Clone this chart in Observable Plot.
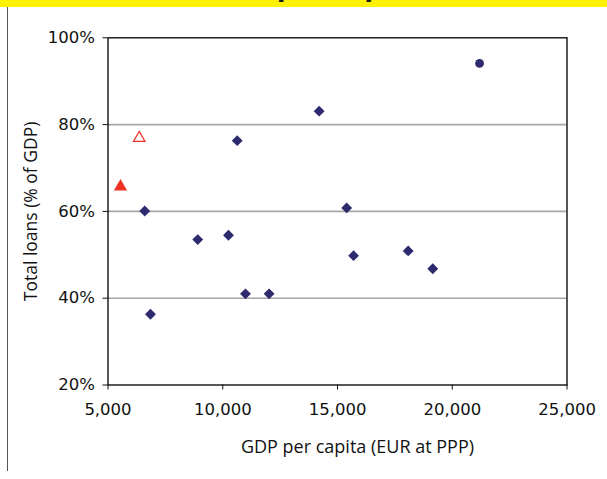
<!DOCTYPE html>
<html>
<head>
<meta charset="utf-8">
<script src="https://cdn.jsdelivr.net/npm/d3@7"></script>
<script src="https://cdn.jsdelivr.net/npm/@observablehq/plot@0.6"></script>
<style>
  html, body { margin: 0; padding: 0; background: #fff; }
  #wrap { position: relative; width: 607px; height: 479px; overflow: hidden; }
  #banner { position: absolute; left: 0; top: 0; width: 607px; height: 7px; background: #fff200; overflow: hidden; }
  #banner span { position: absolute; left: 58px; top: -26.5px; line-height: 25px; font: italic bold 25px "DejaVu Sans", sans-serif; color: #1a1a1a; white-space: nowrap; }
  #vline { position: absolute; left: 7px; top: 7px; width: 1px; height: 464px; background: #555; }
  #chart { position: absolute; left: 0; top: 0; }
</style>
</head>
<body>
<div id="wrap">
  <div id="chart"></div>
  <div id="banner"><span>Loans and GDP per capita</span></div>
  <div id="vline"></div>
</div>
<script>
// Diamonds (countries)
const gdpPerCapita = [14200, 10630, 6600, 15400, 8910, 10250, 15700, 18080, 19150, 10990, 12020, 6850];
const totalLoans   = [83.1, 76.3, 60.1, 60.8, 53.5, 54.5, 49.8, 50.9, 46.8, 41.0, 41.0, 36.3];
// Circle
const circleGdp = [21190];
const circleLoans = [94.1];
// Filled red triangle
const filledTriGdp = [5545];
const filledTriLoans = [65.7];
// Open red triangle
const openTriGdp = [6360];
const openTriLoans = [76.9];
// Ticks and labels
const xTicks = [5000, 10000, 15000, 20000, 25000];
const yTicks = [20, 40, 60, 80, 100];
const gridLines = [40, 60, 80];
const xLabel = ["GDP per capita (EUR at PPP)"];
const yLabel = ["Total loans (% of GDP)"];

const diamonds = gdpPerCapita.map((g, i) => ({gdp: g, loans: totalLoans[i]}));
const circles = circleGdp.map((g, i) => ({gdp: g, loans: circleLoans[i]}));
const filledTri = filledTriGdp.map((g, i) => ({gdp: g, loans: filledTriLoans[i]}));
const openTri = openTriGdp.map((g, i) => ({gdp: g, loans: openTriLoans[i]}));

const navy = "#2e2a6e";
const red = "#ee3124";
const tickFont = "'DejaVu Sans', sans-serif";
const labelFont = "'Open Sans', sans-serif";

const chart = Plot.plot({
  width: 607,
  height: 479,
  marginLeft: 107.5,
  marginRight: 40.5,
  marginTop: 37.3,
  marginBottom: 94.5,
  style: {fontFamily: tickFont, fontSize: "16.5px", color: "#111", background: "transparent"},
  x: {domain: [5000, 25000]},
  y: {domain: [20, 100]},
  marks: [
    Plot.ruleY(gridLines, {stroke: "#a6a6a6", strokeWidth: 1.6}),
    Plot.frame({stroke: "#111", strokeWidth: 1.4}),
    Plot.axisX({ticks: xTicks, tickFormat: d3.format(","), tickSize: 5, tickPadding: 13, fontSize: 16.5,
      fontFamily: tickFont, label: null}),
    Plot.axisY({ticks: yTicks, tickFormat: d => d + "%", tickSize: 5, tickPadding: 8, fontSize: 16.5,
      fontFamily: tickFont, label: null}),
    Plot.text(xLabel, {text: d => d, frameAnchor: "bottom", dx: 20, dy: 62, lineAnchor: "middle",
      textAnchor: "middle", fontFamily: labelFont, fontSize: 18, fill: "#111"}),
    Plot.text(yLabel, {text: d => d, frameAnchor: "left", dx: -76.5, rotate: -90, lineAnchor: "middle",
      textAnchor: "middle", fontFamily: labelFont, fontSize: 17.5, fill: "#111"}),
    Plot.dot(diamonds, {x: "gdp", y: "loans", symbol: "diamond2", r: 4.9, fill: navy, stroke: "none"}),
    Plot.dot(circles, {x: "gdp", y: "loans", symbol: "circle", r: 4.4, fill: navy, stroke: "none"}),
    Plot.dot(filledTri, {x: "gdp", y: "loans", symbol: "triangle", r: 4.9, fill: red, stroke: "none"}),
    Plot.dot(openTri, {x: "gdp", y: "loans", symbol: "triangle", r: 4.3, fill: "white", stroke: red, strokeWidth: 1.2})
  ]
});
document.getElementById("chart").append(chart);
</script>
</body>
</html>
